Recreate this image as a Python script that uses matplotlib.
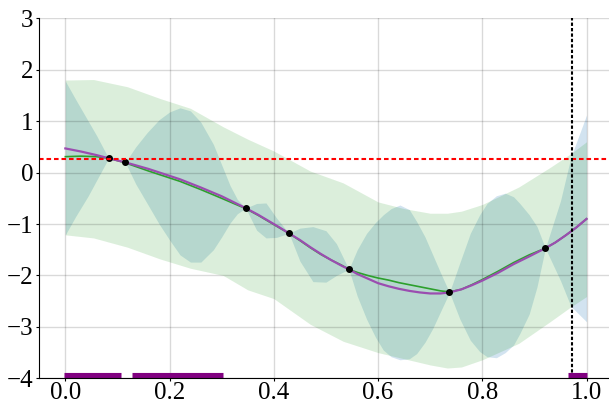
import matplotlib
matplotlib.use("Agg")
import matplotlib.pyplot as plt

plt.rcParams['font.family'] = ['Liberation Serif', 'DejaVu Serif']

# observed points
obs_x = [0.083, 0.115, 0.346, 0.429, 0.544, 0.737, 0.921]
obs_y = [0.28, 0.2, -0.69, -1.18, -1.88, -2.33, -1.47]

# short length-scale model (blue band)
bx = [0.0, 0.02, 0.044, 0.06, 0.083, 0.115, 0.135, 0.157, 0.18, 0.2, 0.22, 0.24, 0.26,
      0.284, 0.3, 0.316, 0.33, 0.346, 0.367, 0.385, 0.405, 0.429, 0.45, 0.475, 0.5, 0.52,
      0.544, 0.56, 0.578, 0.595, 0.61, 0.625, 0.642, 0.66, 0.674, 0.69, 0.705, 0.72, 0.737,
      0.757, 0.777, 0.795, 0.809, 0.827, 0.844, 0.86, 0.872, 0.89, 0.905, 0.921, 0.95, 0.97, 1.0]
blue_hi = [1.78, 1.42, 1.0, 0.72, 0.28, 0.2, 0.5, 0.78, 1.03, 1.18, 1.26, 1.2, 0.98,
           0.55, 0.15, -0.25, -0.52, -0.69, -0.6, -0.59, -0.88, -1.18, -1.08, -1.05, -1.13, -1.38,
           -1.88, -1.5, -1.18, -0.97, -0.82, -0.7, -0.63, -0.72, -0.95, -1.25, -1.6, -1.95, -2.33,
           -1.75, -1.18, -0.82, -0.6, -0.45, -0.4, -0.47, -0.6, -0.82, -1.05, -1.47, -0.55, 0.3, 1.12]
blue_lo = [-1.21, -0.85, -0.45, -0.15, 0.28, 0.2, -0.22, -0.6, -1.0, -1.31, -1.6, -1.74, -1.74,
           -1.5, -1.25, -0.98, -0.8, -0.69, -1.12, -1.27, -1.26, -1.18, -1.72, -2.12, -2.13, -2.0,
           -1.88, -2.4, -2.85, -3.2, -3.45, -3.58, -3.64, -3.62, -3.52, -3.3, -3.03, -2.7, -2.33,
           -2.85, -3.26, -3.48, -3.58, -3.6, -3.5, -3.35, -3.13, -2.75, -2.22, -1.47, -2.1, -2.6, -2.9]

# long length-scale model (green band)
gx = [0.0, 0.054, 0.119, 0.182, 0.24, 0.303, 0.35, 0.4, 0.47, 0.533, 0.6, 0.65, 0.7,
      0.733, 0.76, 0.8, 0.87, 0.93, 0.97, 1.0]
green_hi = [1.8, 1.81, 1.67, 1.44, 1.25, 0.89, 0.65, 0.42, 0.03, -0.2, -0.57, -0.7, -0.79,
            -0.79, -0.75, -0.62, -0.28, 0.1, 0.37, 0.6]
green_lo = [-1.21, -1.27, -1.45, -1.68, -1.86, -2.0, -2.28, -2.45, -2.95, -3.28, -3.5, -3.62, -3.74,
            -3.8, -3.78, -3.64, -3.32, -2.9, -2.61, -2.41]

# posterior means
mx = [0.0, 0.03, 0.06, 0.083, 0.115, 0.16, 0.19, 0.22, 0.26, 0.3, 0.346, 0.37, 0.39, 0.41,
      0.429, 0.45, 0.47, 0.49, 0.51, 0.53, 0.544, 0.56, 0.58, 0.6, 0.62, 0.64, 0.66, 0.68,
      0.70, 0.72, 0.737, 0.76, 0.78, 0.8, 0.83, 0.86, 0.89, 0.921, 0.94, 0.96, 0.98, 1.0]
green_mean = [0.31, 0.32, 0.31, 0.28, 0.19, 0.03, -0.07, -0.17, -0.33, -0.5, -0.7, -0.83, -0.95, -1.07,
              -1.18, -1.32, -1.46, -1.59, -1.7, -1.8, -1.88, -1.94, -2.0, -2.05, -2.09, -2.14, -2.18, -2.22,
              -2.26, -2.3, -2.32, -2.27, -2.18, -2.08, -1.92, -1.75, -1.6, -1.47, -1.36, -1.22, -1.07, -0.9]
purple_mean = [0.47, 0.41, 0.34, 0.28, 0.2, 0.07, -0.03, -0.13, -0.29, -0.46, -0.69, -0.82, -0.94, -1.06,
               -1.18, -1.31, -1.45, -1.58, -1.7, -1.81, -1.88, -1.97, -2.06, -2.15, -2.21, -2.26, -2.3, -2.33,
               -2.35, -2.35, -2.33, -2.27, -2.19, -2.1, -1.95, -1.78, -1.63, -1.47, -1.36, -1.22, -1.07, -0.9]

best_y = 0.27
next_x = 0.973
intervals = [(-0.003, 0.107), (0.127, 0.303), (0.965, 1.0)]

fig = plt.figure(figsize=(6.09, 4.04), dpi=100)
ax = fig.add_axes([0.0645, 0.0636, 0.9414, 0.891])

ax.fill_between(bx, blue_lo, blue_hi, color='C0', alpha=0.2, lw=0)
ax.fill_between(gx, green_lo, green_hi, color='C2', alpha=0.17, lw=0)
ax.plot(mx, green_mean, color='C2', lw=1.2)
ax.plot(mx, purple_mean, color='#9b4db0', lw=1.6)
ax.plot(obs_x, obs_y, 'o', color='k', ms=4)

ax.axhline(best_y, color='red', lw=1.5, ls=(0, (2.2, 1.4)))
ax.axvline(next_x, color='k', lw=1.5, ls=(0, (1.6, 1.0)))
for a, b in intervals:
    ax.plot([a, b], [-4, -4], color='purple', lw=8, solid_capstyle='butt')

ax.set_xlim(-0.05, 1.05)
ax.set_ylim(-4, 3)
ax.set_xticks([0.0, 0.2, 0.4, 0.6, 0.8, 1.0])
ax.set_yticks([-4, -3, -2, -1, 0, 1, 2, 3])
ax.grid(True, color='k', alpha=0.15, lw=1)
for s in ['top', 'right']:
    ax.spines[s].set_visible(False)
ax.tick_params(labelsize=18, length=2, pad=2)
ax.tick_params(axis='x', pad=1)

fig.savefig('out.png', dpi=100)
